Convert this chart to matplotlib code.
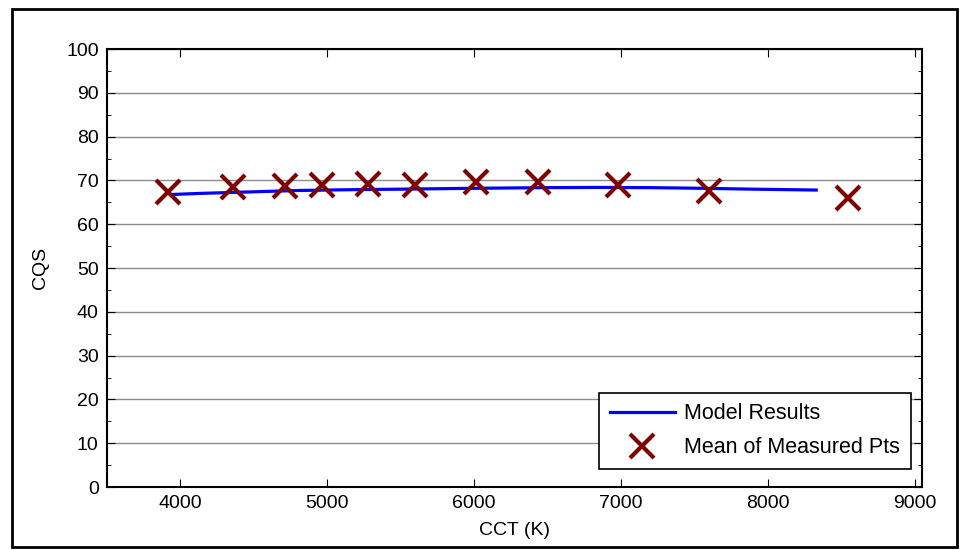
import matplotlib
matplotlib.use("Agg")
import matplotlib.pyplot as plt
from matplotlib.patches import Rectangle
from matplotlib.ticker import MultipleLocator

plt.rcParams['font.family'] = ['Liberation Sans', 'DejaVu Sans']

# model curve
model_cct = [3950, 4150, 4500, 4800, 5200, 5500, 6000, 6500, 6850, 7200, 7550, 7900, 8330]
model_cqs = [66.8, 67.05, 67.4, 67.7, 67.9, 68.0, 68.2, 68.35, 68.4, 68.35, 68.2, 68.0, 67.8]

# measured means
meas_cct = [3918, 4361, 4714, 4966, 5279, 5599, 6014, 6435, 6980, 7599, 8544]
meas_cqs = [67.4, 68.5, 68.7, 68.9, 69.1, 68.9, 69.7, 69.6, 68.9, 67.6, 65.9]

fs = 14

fig = plt.figure(figsize=(9.63, 5.5), dpi=100)
ax = fig.add_axes([0.1111, 0.1145, 0.8463, 0.7964])

ax.plot(model_cct, model_cqs, color='#0000ff', lw=2.3, label='Model Results')
ax.plot(meas_cct, meas_cqs, 'x', color='#800000', ms=17, mew=3,
        label='Mean of Measured Pts')

ax.set_xlim(3500, 9050)
ax.set_ylim(0, 100)
ax.yaxis.set_major_locator(MultipleLocator(10))
ax.yaxis.set_minor_locator(MultipleLocator(5))
ax.xaxis.set_major_locator(MultipleLocator(1000))
ax.grid(axis='y', color='#8c8c8c', lw=1)
ax.tick_params(which='both', direction='in', top=True, right=True, labelsize=fs)
ax.tick_params(which='major', length=6, pad=6)
ax.tick_params(which='minor', length=3)
for s in ax.spines.values():
    s.set_linewidth(1.5)

ax.set_xlabel('CCT (K)', fontsize=fs, labelpad=7)
ax.set_ylabel('CQS', fontsize=fs, labelpad=12)

leg = ax.legend(loc='lower right', bbox_to_anchor=(0.9865, 0.041),
                borderaxespad=0, fontsize=15.5, handlelength=3.0,
                handletextpad=0.45, fancybox=False, framealpha=1,
                edgecolor='black', borderpad=0.5, labelspacing=0.6)
leg.get_frame().set_linewidth(1.2)

fig.patches.append(Rectangle((12 / 963, 3 / 550), 945 / 963, 538 / 550,
                             transform=fig.transFigure, fill=False,
                             edgecolor='black', lw=2))

fig.savefig('out.png', dpi=100)
